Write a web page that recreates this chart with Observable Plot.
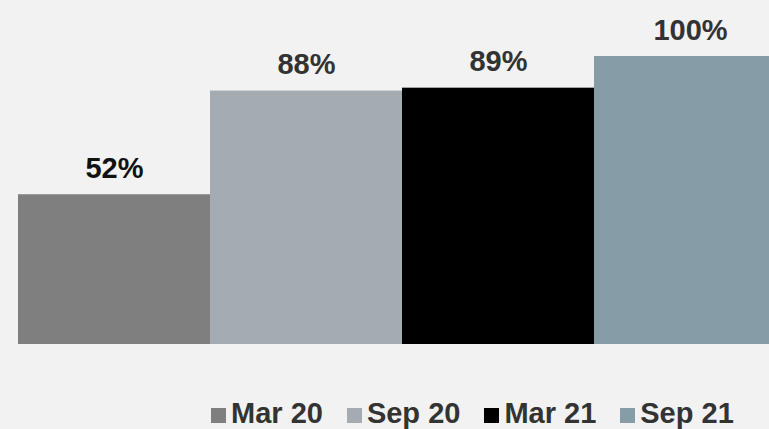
<!DOCTYPE html>
<html>
<head>
<meta charset="utf-8">
<script src="https://cdn.jsdelivr.net/npm/d3@7"></script>
<script src="https://cdn.jsdelivr.net/npm/@observablehq/plot@0.6"></script>
<style>
  html, body { margin: 0; padding: 0; background: #f2f2f2; overflow: hidden; }
  #wrap { position: relative; width: 769px; height: 429px; background: #f2f2f2; overflow: hidden; }
  #legend { position: absolute; left: 211px; top: 399px; display: flex; font-family: "Liberation Sans", Arial, sans-serif; font-weight: bold; font-size: 29px; line-height: 29px; color: #333; white-space: nowrap; }
  .item { display: flex; align-items: flex-start; margin-right: 24px; }
  .sw { width: 15px; height: 15px; margin-top: 9px; margin-right: 5px; }
</style>
</head>
<body>
<div id="wrap"></div>
<script>
const categories = ["Mar 20", "Sep 20", "Mar 21", "Sep 21"];
const values = [52, 88, 89, 100];
const colors = ["#7f7f7f", "#a5acb1", "#000000", "#869ca7"];
const labelColors = ["#111111", "#333333", "#333333", "#333333"];

const data = categories.map((c, i) => ({cat: c, value: values[i], label: values[i] + "%", lc: labelColors[i]}));

const chart = Plot.plot({
  width: 769,
  height: 395,
  margin: 0,
  style: {background: "#f2f2f2", fontFamily: "'Liberation Sans', Arial, sans-serif", overflow: "hidden"},
  x: {domain: categories, range: [17, 786], padding: 0, axis: null},
  y: {domain: [0, 100], range: [344, 56], axis: null},
  color: {domain: categories, range: colors},
  marks: [
    Plot.barY(data, {x: "cat", y: "value", fill: "cat"}),
    Plot.text(data, {x: "cat", y: "value", text: "label", dy: -17, lineAnchor: "bottom", fontSize: 29, fontWeight: "bold", fill: d => d.lc})
  ]
});
const wrap = document.getElementById("wrap");
wrap.appendChild(chart);

const legend = document.createElement("div");
legend.id = "legend";
categories.forEach((c, i) => {
  const item = document.createElement("div");
  item.className = "item";
  const sw = document.createElement("div");
  sw.className = "sw";
  sw.style.background = colors[i];
  const t = document.createElement("span");
  t.textContent = c;
  item.appendChild(sw);
  item.appendChild(t);
  legend.appendChild(item);
});
wrap.appendChild(legend);
</script>
</body>
</html>
